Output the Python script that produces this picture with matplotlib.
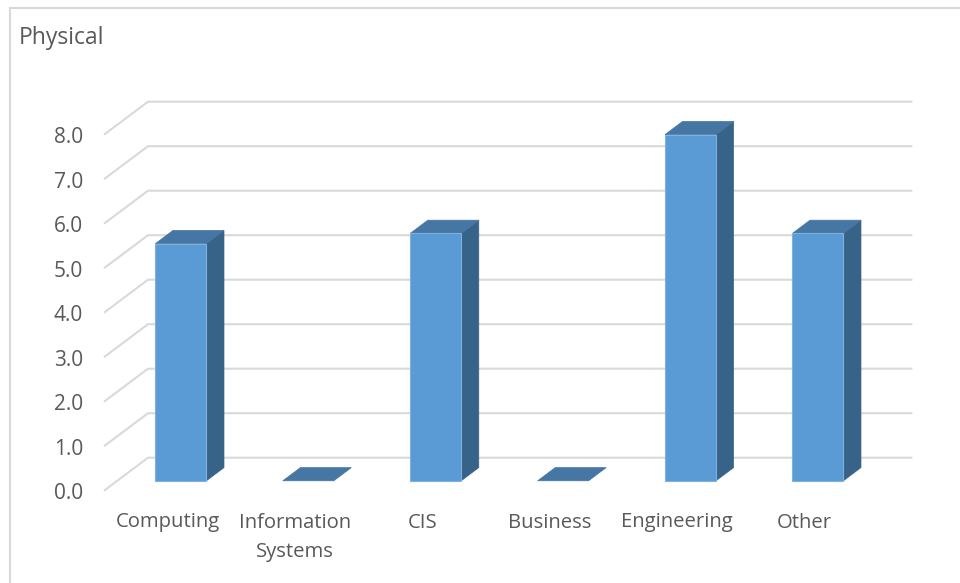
import matplotlib
matplotlib.use("Agg")
import matplotlib.pyplot as plt
from matplotlib.patches import Polygon
from matplotlib.lines import Line2D

# ---- data ----
title = "Physical"
categories = ["Computing", "Information\nSystems", "CIS", "Business", "Engineering", "Other"]
values = [5.33, 0.0, 5.56, 0.0, 7.78, 5.56]
yticks = [0.0, 1.0, 2.0, 3.0, 4.0, 5.0, 6.0, 7.0, 8.0]
ytick_labels = [f"{v:.1f}" for v in yticks]

# ---- geometry (pixel calibration) ----
W, H = 960, 583
x0_px, y0_px = 104.0, 490.7      # front-left floor corner
cat_px, val_px = 127.4, 44.5     # px per category / per unit value
dx_px, dy_px = 44.0, 33.0        # full depth offset in px
DX = dx_px / cat_px
DY = dy_px / val_px
n = len(categories)
d_front, d_back = 0.3, 0.7
bar_l, bar_r = 0.3, 0.7

plt.rcParams['font.family'] = ['Open Sans', 'DejaVu Sans']
fig = plt.figure(figsize=(W / 100, H / 100), dpi=100)
ax = fig.add_axes([0, 0, 1, 1])
ax.set_xlim(-x0_px / cat_px, (W - x0_px) / cat_px)
ax.set_ylim((y0_px - H) / val_px, y0_px / val_px)
ax.axis("off")

def P(x, v, d):
    return (x + d * DX, v + d * DY)

grid_c = "#d9d9d9"
# gridlines: side wall + back wall
for v in yticks:
    a = P(0, v, 0); b = P(0, v, 1); c = P(n, v, 1)
    ax.plot([a[0], b[0], c[0]], [a[1], b[1], c[1]], color=grid_c, lw=1.5,
            solid_capstyle="butt", zorder=1)

front_c = "#5b9bd5"
top_c = "#4676a3"
side_c = "#386388"
for i, v in enumerate(values):
    xl, xr = i + bar_l, i + bar_r
    side = [P(xr, 0, d_front), P(xr, 0, d_back), P(xr, v, d_back), P(xr, v, d_front)]
    top = [P(xl, v, d_front), P(xr, v, d_front), P(xr, v, d_back), P(xl, v, d_back)]
    front = [P(xl, 0, d_front), P(xr, 0, d_front), P(xr, v, d_front), P(xl, v, d_front)]
    if v > 0:
        ax.add_patch(Polygon(side, closed=True, fc=side_c, ec=side_c, lw=0.5, zorder=3))
        ax.add_patch(Polygon(front, closed=True, fc=front_c, ec="#7fb0de", lw=0.8, zorder=4))
    ax.add_patch(Polygon(top, closed=True, fc=top_c, ec=top_c, lw=0.5, zorder=3))

text_c = "#595959"
# y tick labels (front plane)
lab_shift = 3.0 / val_px
for v, lab in zip(yticks, ytick_labels):
    ax.text((83 - x0_px) / cat_px, v - lab_shift, lab, ha="right", va="center",
            fontsize=15, color=text_c, zorder=5)

# category labels (each line centred below the category on the front floor edge)
line_h = 29.3
for i, lab in enumerate(categories):
    for k, part in enumerate(lab.split("\n")):
        ax.text(i + 0.5, (y0_px - 522.5 - k * line_h) / val_px, part,
                ha="center", va="center", fontsize=14.6, color=text_c, zorder=5)

# title
fig.text(19 / W, 1 - 37.5 / H, title, ha="left", va="center", fontsize=16.5,
         color=text_c)

# chart border (top and left visible)
fig.add_artist(Line2D([10 / W, 1], [1 - 8 / H, 1 - 8 / H], color="#d9d9d9", lw=1.5))
fig.add_artist(Line2D([10 / W, 10 / W], [0, 1 - 8 / H], color="#d9d9d9", lw=1.5))

fig.savefig("out.png", dpi=100)
